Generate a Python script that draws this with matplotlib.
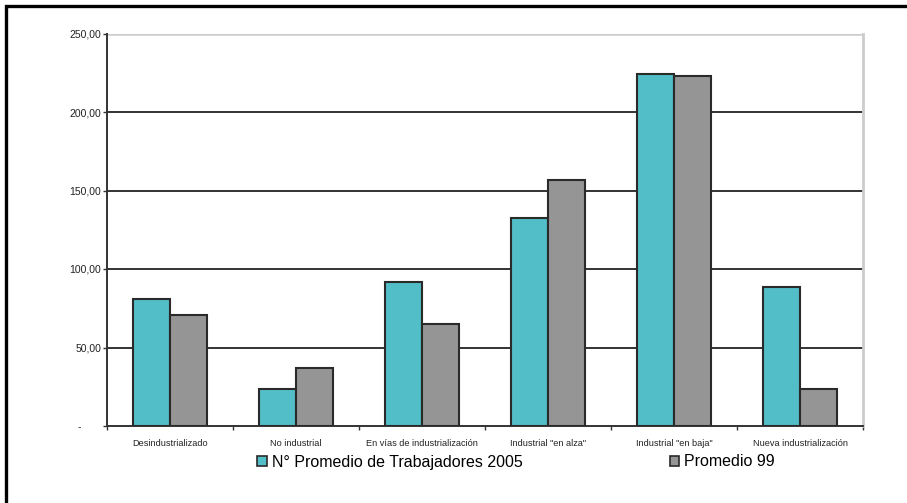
import matplotlib
matplotlib.use("Agg")
import matplotlib.pyplot as plt
import numpy as np
from matplotlib.patches import Rectangle, Patch

categories = ["Desindustrializado", "No industrial", "En vías de industrialización",
              "Industrial \"en alza\"", "Industrial \"en baja\"", "Nueva industrialización"]
trab_2005 = [80.7, 23.4, 91.5, 132.3, 224.2, 88.7]
prom_99 = [70.9, 36.7, 65.0, 156.7, 223.0, 23.8]
series_names = ["N° Promedio de Trabajadores 2005", "Promedio 99"]
yticks = [0, 50, 100, 150, 200, 250]
ytick_labels = ["-       ", "50,00", "100,00", "150,00", "200,00", "250,00"]

plt.rcParams['font.family'] = ['Liberation Sans', 'DejaVu Sans']

W, H = 907, 503
fig = plt.figure(figsize=(W / 100, H / 100), dpi=100)
ax = fig.add_axes([107 / W, 1 - 426 / H, (863 - 107) / W, (426 - 33.5) / H])

teal = "#52BEC7"
gray = "#959595"
edge = "#2a2a2a"
x = np.arange(len(categories))
bw = 0.29
ax.bar(x - bw / 2, trab_2005, bw, color=teal, edgecolor=edge, linewidth=1.5, zorder=3)
ax.bar(x + bw / 2, prom_99, bw, color=gray, edgecolor=edge, linewidth=1.5, zorder=3)

ax.set_xlim(-0.5, len(categories) - 0.5)
ax.set_ylim(0, 250)

for v in yticks[1:-1]:
    ax.axhline(v, color="#333333", linewidth=1.4, zorder=1)
ax.axhline(250, color="#cccccc", linewidth=1.8, zorder=1)

for s in ["left", "bottom"]:
    ax.spines[s].set_color("#333333")
    ax.spines[s].set_linewidth(1.4)
ax.spines["top"].set_visible(False)
ax.spines["right"].set_color("#cccccc")
ax.spines["right"].set_linewidth(2)

ax.set_yticks(yticks)
ax.set_yticklabels(ytick_labels, fontsize=7.5, color="#222222")
ax.tick_params(axis="y", length=3, width=1, color="#333333", pad=1)

ax.set_xticks(x)
ax.set_xticklabels(categories, fontsize=6.6, color="#222222")
ax.tick_params(axis="x", which="major", length=0, pad=9)
ax.set_xticks(np.arange(-0.5, len(categories), 1.0), minor=True)
ax.tick_params(axis="x", which="minor", length=3, width=1, color="#333333")

handles = [Patch(facecolor=teal, edgecolor=edge, linewidth=1.2),
           Patch(facecolor=gray, edgecolor=edge, linewidth=1.2)]
fig.legend(handles, series_names, loc="center", bbox_to_anchor=(516 / W, 1 - 462 / H),
           ncol=2, frameon=False, fontsize=11.5, handlelength=0.6, handleheight=0.6,
           handletextpad=0.3, columnspacing=9.2)

fig.add_artist(Rectangle((6 / W, -0.2), 1.2, 1 - 6 / H + 0.2, transform=fig.transFigure,
                         fill=False, edgecolor="black", linewidth=2.4))

fig.savefig("out.png", dpi=100)
